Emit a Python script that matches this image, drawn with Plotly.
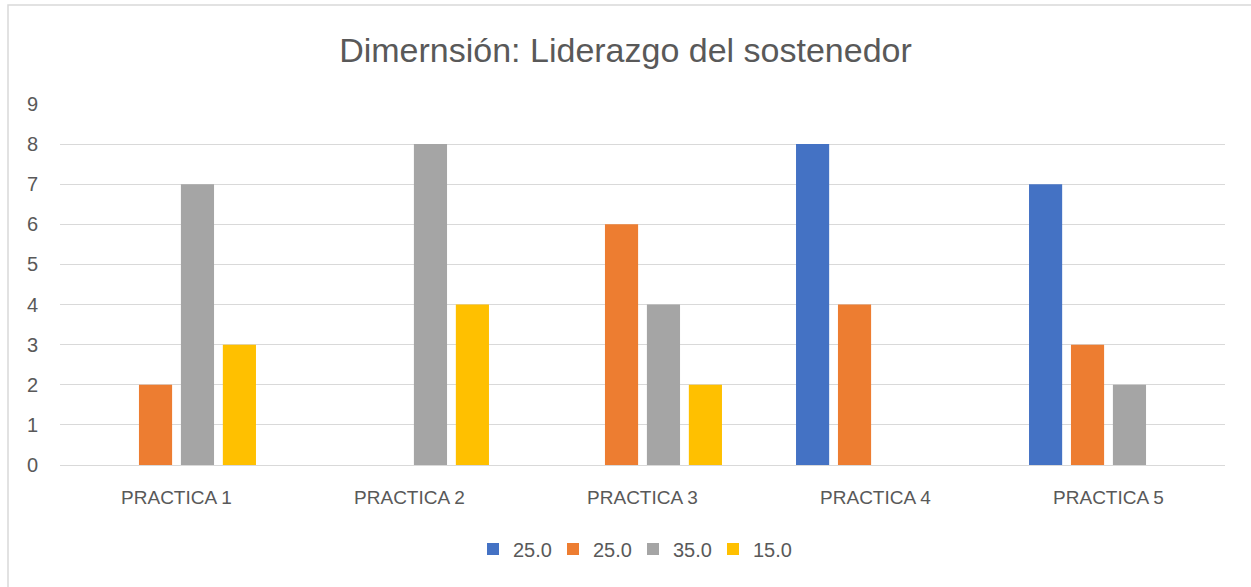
import plotly.graph_objects as go

categories = ['PRACTICA 1', 'PRACTICA 2', 'PRACTICA 3', 'PRACTICA 4', 'PRACTICA 5']
series_names = ['25.0', '25.0', '35.0', '15.0']
blue_vals = [0, 0, 0, 8, 7]
orange_vals = [2, 0, 6, 4, 3]
gray_vals = [7, 8, 4, 0, 2]
yellow_vals = [3, 4, 2, 0, 0]
colors = ['#4472C4', '#ED7D31', '#A5A5A5', '#FFC000']

W, H = 1251, 587
L, R, T, B = 60, 26, 104, 122
TEXT = '#595959'
FONT = 'Liberation Sans'

fig = go.Figure()
for name, vals, col in zip(series_names, [blue_vals, orange_vals, gray_vals, yellow_vals], colors):
    fig.add_trace(go.Bar(
        x=categories,
        y=vals,
        name=name,
        marker_color=col,
        marker_line_width=0,
    ))

pw = W - L - R
ph = H - T - B
base = T + ph  # pixel row of y=0 in paper coords


def px_x(p):
    return (p - L) / pw


def px_y(p):
    return (base - p) / ph


fig.update_layout(
    width=W,
    height=H,
    barmode='group',
    bargap=0.28,
    bargroupgap=0.21,
    plot_bgcolor='white',
    paper_bgcolor='white',
    font=dict(family=FONT, color=TEXT, size=18),
    title=dict(
        text='Dimernsión: Liderazgo del sostenedor',
        font=dict(size=34, color=TEXT, family=FONT),
        x=0.5, xanchor='center',
        y=1 - 50 / H, yanchor='middle'
    ),
    margin=dict(l=L, r=R, t=T, b=B),
    showlegend=True,
    legend=dict(
        orientation='h',
        x=px_x(633), xanchor='center',
        y=px_y(549), yanchor='middle',
        font=dict(size=20, color=TEXT),
        traceorder='normal',
        itemwidth=30,
        entrywidth=35,
        entrywidthmode='pixels',
        bgcolor='rgba(0,0,0,0)',
    ),
    shapes=[dict(
        type='rect', xref='paper', yref='paper',
        x0=px_x(8), x1=px_x(1270),
        y0=px_y(600), y1=px_y(5),
        line=dict(color='#d9d9d9', width=1.5),
        fillcolor='rgba(0,0,0,0)',
        layer='below'
    )]
)

fig.update_yaxes(
    range=[0, 9],
    dtick=1,
    showgrid=True,
    gridcolor='#d9d9d9',
    gridwidth=1,
    zeroline=True,
    zerolinecolor='#d9d9d9',
    zerolinewidth=1,
    tickfont=dict(size=20, color=TEXT),
    ticks='',
    ticklabelstandoff=21,
    fixedrange=True,
)
fig.update_xaxes(
    showgrid=False,
    showline=False,
    tickfont=dict(size=19, color=TEXT),
    ticks='',
    ticklabelstandoff=19,
)

# drop the default page margin so the chart sits at the window's top-left corner
fig.write_html("out.html", config={'displayModeBar': False},
               post_script="document.body.style.margin='0';")
